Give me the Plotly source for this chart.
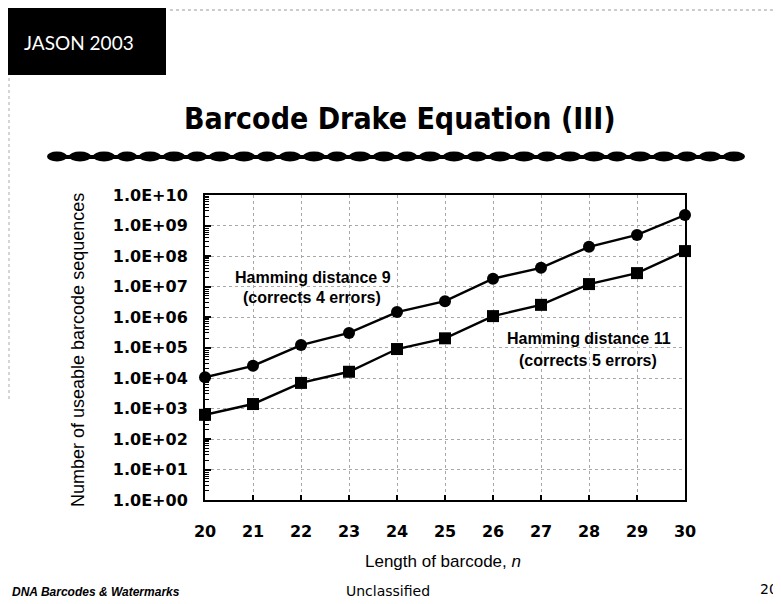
import plotly.graph_objects as go

# ---- data ----
barcode_length = [20, 21, 22, 23, 24, 25, 26, 27, 28, 29, 30]
hamming9 = [1.05e4, 2.5e4, 1.2e5, 3.0e5, 1.45e6, 3.3e6, 1.8e7, 4.1e7, 2.0e8, 4.9e8, 2.2e9]
hamming11 = [6.2e2, 1.4e3, 6.9e3, 1.6e4, 8.9e4, 2.0e5, 1.07e6, 2.5e6, 1.2e7, 2.75e7, 1.45e8]
y_tick_vals = [1e0, 1e1, 1e2, 1e3, 1e4, 1e5, 1e6, 1e7, 1e8, 1e9, 1e10]
y_tick_text = ["1.0E+00", "1.0E+01", "1.0E+02", "1.0E+03", "1.0E+04", "1.0E+05",
               "1.0E+06", "1.0E+07", "1.0E+08", "1.0E+09", "1.0E+10"]

# page body has an 8px margin; size the figure to fill the rest of the window
OFF = 8
W, H = 781 - OFF, 604 - OFF
L, R, T, B = 205 - OFF, 96, 195 - OFF, 104
PW, PH = W - L - R, H - T - B


def px(x):
    # screen x -> paper
    return (x - OFF - L) / PW


def py(y):
    # screen y -> paper
    return (H - B - (y - OFF)) / PH


fig = go.Figure()
fig.add_trace(go.Scatter(x=barcode_length, y=hamming9, mode="lines+markers",
                         line=dict(color="black", width=2.4),
                         marker=dict(symbol="circle", size=12, color="black"),
                         cliponaxis=False, showlegend=False))
fig.add_trace(go.Scatter(x=barcode_length, y=hamming11, mode="lines+markers",
                         line=dict(color="black", width=2.4),
                         marker=dict(symbol="square", size=12, color="black"),
                         cliponaxis=False, showlegend=False))

tickfont = dict(family="DejaVu Sans", size=16, color="black", weight="bold")

fig.update_xaxes(range=[20, 30], tickvals=barcode_length, ticks="inside", ticklen=5,
                 tickwidth=2, tickcolor="black", tickfont=tickfont,
                 ticklabelstandoff=16,
                 showgrid=True, gridcolor="#a8a8a8", gridwidth=1, griddash="dot",
                 showline=True, linecolor="black", linewidth=2, mirror=True,
                 zeroline=False)
fig.update_yaxes(type="log", range=[0, 10], tickvals=y_tick_vals, ticktext=y_tick_text,
                 ticks="inside", ticklen=6, tickwidth=2, tickcolor="black",
                 tickfont=tickfont, ticklabelstandoff=12,
                 minor=dict(ticks="inside", ticklen=4, tickcolor="black", tickwidth=1,
                            dtick="D1", showgrid=False),
                 showgrid=True, gridcolor="#a8a8a8", gridwidth=1, griddash="dot",
                 showline=True, linecolor="black", linewidth=2, mirror=True,
                 zeroline=False)

shapes = []
# JASON box
shapes.append(dict(type="rect", xref="paper", yref="paper", x0=px(2), x1=px(166),
                   y0=py(75), y1=py(7), fillcolor="black", line=dict(width=0)))
# faint dotted scan lines
shapes.append(dict(type="line", xref="paper", yref="paper", x0=px(170), x1=px(781),
                   y0=py(10), y1=py(10), line=dict(color="#999999", width=1, dash="dot")))
shapes.append(dict(type="line", xref="paper", yref="paper", x0=px(9), x1=px(9),
                   y0=py(78), y1=py(400), line=dict(color="#aaaaaa", width=1, dash="dot")))
# decorative rope under title
shapes.append(dict(type="line", xref="paper", yref="paper", x0=px(50), x1=px(742),
                   y0=py(157), y1=py(157), line=dict(color="black", width=4)))
xs = 47
i = 0
while xs < 735:
    w = 22 if i % 3 else 20
    shapes.append(dict(type="circle", xref="paper", yref="paper",
                       x0=px(xs), x1=px(xs + w), y0=py(161.5), y1=py(151.5),
                       fillcolor="black", line=dict(width=0)))
    xs += w + 2
    i += 1

annot_font = dict(family="Liberation Sans", size=16, color="black", weight="bold")
annotations = [
    dict(text="JASON 2003", x=px(79), y=py(42), font=dict(family="Lato", size=19, color="white")),
    dict(text="Barcode Drake Equation (III)", x=px(400), y=py(118),
         font=dict(family="DejaVu Sans Condensed, DejaVu Sans", size=30, color="black", weight="bold")),
    dict(text="Hamming distance 9", x=px(313), y=py(277), font=annot_font),
    dict(text="(corrects 4 errors)", x=px(312), y=py(297), font=annot_font),
    dict(text="Hamming distance 11", x=px(589), y=py(338), font=annot_font),
    dict(text="(corrects 5 errors)", x=px(588), y=py(360), font=annot_font),
    dict(text="Length of barcode, <i>n</i>", x=px(443), y=py(561),
         font=dict(family="Liberation Sans", size=17, color="black")),
    dict(text="Number of useable barcode sequences", x=px(78), y=py(350), textangle=-90,
         font=dict(family="Liberation Sans", size=18, color="black")),
    dict(text="<b><i>DNA Barcodes &amp; Watermarks</i></b>", x=px(10), y=py(592), xanchor="left",
         font=dict(family="Liberation Sans", size=12, color="black")),
    dict(text="Unclassified", x=px(388), y=py(591),
         font=dict(family="DejaVu Sans", size=14, color="black")),
    dict(text="20", x=px(780), y=py(589), xanchor="right",
         font=dict(family="DejaVu Sans", size=14, color="black")),
]
for a in annotations:
    a.setdefault("xref", "paper")
    a.setdefault("yref", "paper")
    a.setdefault("showarrow", False)
    a.setdefault("xanchor", "center")
    a.setdefault("yanchor", "middle")

fig.update_layout(width=W, height=H, margin=dict(l=L, r=R, t=T, b=B),
                  paper_bgcolor="white", plot_bgcolor="white",
                  shapes=shapes, annotations=annotations)

fig.write_html("out.html")
